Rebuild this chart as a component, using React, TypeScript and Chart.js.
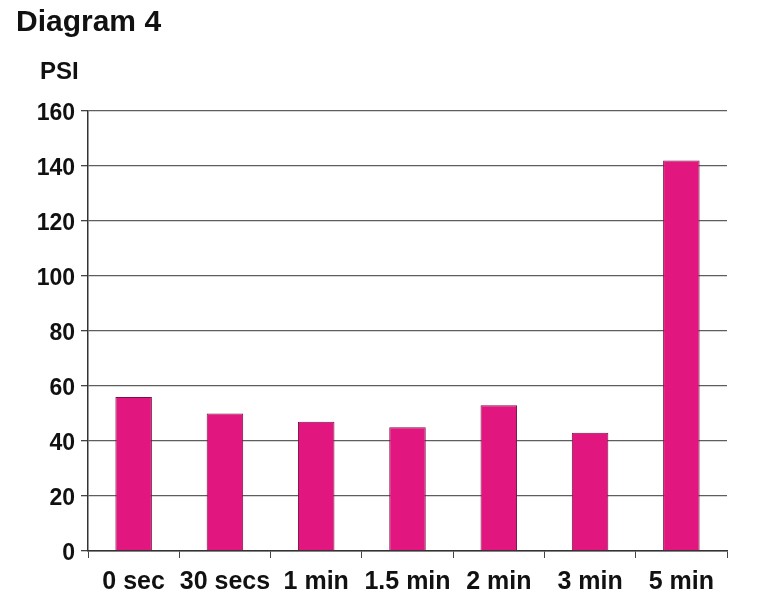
import React, { useEffect, useRef } from "react";
import { Chart, registerables } from "chart.js";

Chart.register(...registerables);

const categories = ["0 sec", "30 secs", "1 min", "1.5 min", "2 min", "3 min", "5 min"];
const psiValues = [56, 50, 47, 45, 53, 43, 142];
const yMin = 0;
const yMax = 160;
const yStep = 20;
const titleText = "Diagram 4";
const unitText = "PSI";

const FONT = "'Liberation Sans', Arial, Helvetica, sans-serif";

const headerPlugin = {
  id: "headerText",
  afterDraw(chart: any) {
    const ctx = chart.ctx;
    ctx.save();
    ctx.fillStyle = "#111";
    ctx.textAlign = "left";
    ctx.textBaseline = "alphabetic";
    ctx.font = `bold 30px ${FONT}`;
    ctx.fillText(titleText, 8, 23);
    ctx.font = `bold 24px ${FONT}`;
    ctx.fillText(unitText, 32, 71);
    ctx.restore();
  },
};

export default function App() {
  const ref = useRef<HTMLCanvasElement | null>(null);
  useEffect(() => {
    if (!ref.current) return;
    const chart = new Chart(ref.current, {
      type: "bar",
      data: {
        labels: categories,
        datasets: [
          {
            data: psiValues,
            backgroundColor: "#E1167F",
            borderColor: "#7a1048",
            borderWidth: 1,
            categoryPercentage: 1,
            barPercentage: 0.4,
          },
        ],
      },
      options: {
        animation: false,
        responsive: false,
        maintainAspectRatio: false,
        devicePixelRatio: 1,
        layout: { padding: { top: 103, right: 27, bottom: 0, left: 0 } },
        plugins: {
          legend: { display: false },
          title: { display: false },
          tooltip: { enabled: false },
        },
        scales: {
          x: {
            grid: {
              offset: true,
              drawOnChartArea: false,
              drawTicks: true,
              tickLength: 7,
              tickColor: "#444",
            },
            border: { color: "#333", width: 1.5 },
            ticks: {
              color: "#111",
              font: { family: FONT, size: 25, weight: "bold" },
              padding: 9,
              maxRotation: 0,
              autoSkip: false,
            },
            afterFit(scale: any) {
              scale.height = 48;
            },
          },
          y: {
            min: yMin,
            max: yMax,
            grid: {
              color: "#5e5e5e",
              lineWidth: 1.3,
              drawTicks: true,
              tickLength: 7,
              tickColor: "#444",
            },
            border: { color: "#333", width: 1.5 },
            ticks: {
              stepSize: yStep,
              color: "#111",
              font: { family: FONT, size: 23, weight: "bold" },
              padding: 6,
              labelOffset: 3,
            },
            afterFit(scale: any) {
              scale.width = 80;
            },
          },
        },
      },
      plugins: [headerPlugin],
    });
    return () => chart.destroy();
  }, []);
  return (
    <div style={{ width: 746, height: 591 }}>
      <canvas ref={ref} width={746} height={591} style={{ display: "block" }} />
    </div>
  );
}
